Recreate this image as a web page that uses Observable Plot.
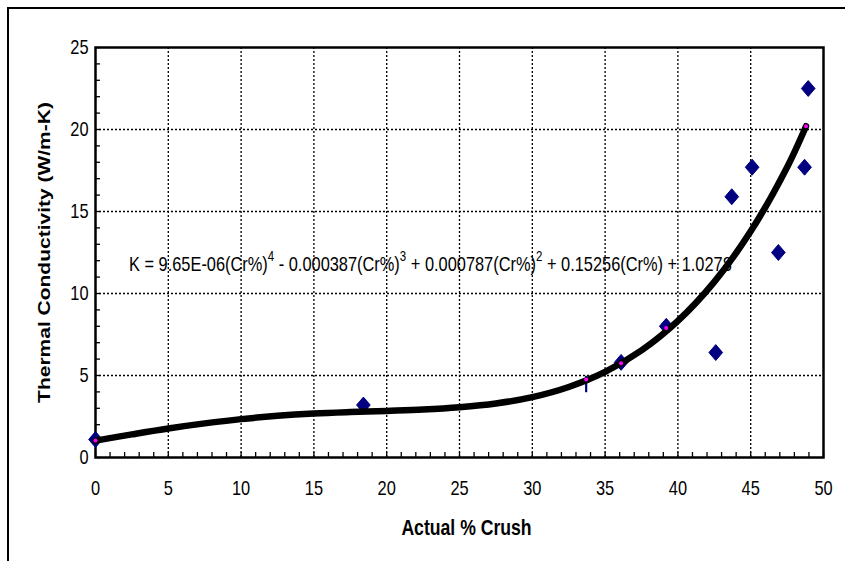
<!DOCTYPE html>
<html>
<head>
<meta charset="utf-8">
<script src="https://cdn.jsdelivr.net/npm/d3@7"></script>
<script src="https://cdn.jsdelivr.net/npm/@observablehq/plot@0.6"></script>
<style>
  html, body { margin: 0; padding: 0; background: #fff; overflow: hidden; }
  #wrap { position: relative; width: 845px; height: 561px; }
  #border { position: absolute; left: 7px; top: 7px; width: 900px; height: 700px; border: 2px solid #000; }
  #chart { position: absolute; left: 0; top: 0; }
</style>
</head>
<body>
<div id="wrap"><div id="border"></div><div id="chart"></div></div>
<script>
// Measured data points (diamonds)
const crush = [0, 18.4, 36.1, 39.2, 42.6, 43.7, 45.1, 46.9, 48.7, 48.95];
const conductivity = [1.1, 3.2, 5.8, 8.0, 6.4, 15.9, 17.7, 12.5, 17.7, 22.5];

// Point drawn as a short vertical stroke
const stickX = [33.7];
const stickLow = [3.95];
const stickHigh = [4.95];

// Fitted curve
const fitX = [0, 2.5, 5, 7.5, 10, 12.5, 15, 17.5, 20, 22.5, 25, 27.5, 30, 32.5, 35, 37.5, 40, 42.5, 45, 47.5, 48.8];
const fitY = [1.03, 1.41, 1.77, 2.08, 2.34, 2.54, 2.68, 2.77, 2.84, 2.92, 3.06, 3.29, 3.68, 4.30, 5.22, 6.53, 8.33, 10.71, 13.79, 17.70, 20.2];

// Small fitted-value markers
const fitMarkX = [0, 33.7, 36.1, 39.2, 48.8];
const fitMarkY = [1.03, 4.75, 5.75, 7.9, 20.2];

// Axis ticks
const xTicks = [0, 5, 10, 15, 20, 25, 30, 35, 40, 45, 50];
const yTicks = [0, 5, 10, 15, 20, 25];
const xMinor = [1,2,3,4,6,7,8,9,11,12,13,14,16,17,18,19,21,22,23,24,26,27,28,29,31,32,33,34,36,37,38,39,41,42,43,44,46,47,48,49];
const yMinor = [1,2,3,4,6,7,8,9,11,12,13,14,16,17,18,19,21,22,23,24];
const xGrid = [5, 10, 15, 20, 25, 30, 35, 40, 45];
const yGrid = [5, 10, 15, 20];

// Texts
const xTitle = "Actual % Crush";
const yTitle = "Thermal Conductivity (W/m-K)";
const eqParts = [
  ["K = 9.65E-06(Cr%)", false], ["4", true],
  [" - 0.000387(Cr%)", false], ["3", true],
  [" + 0.000787(Cr%)", false], ["2", true],
  [" + 0.15256(Cr%) + 1.0278", false]
];
const eqAnchorX = [2.3];
const eqAnchorY = [11.75];

const points = crush.map((x, i) => ({x, y: conductivity[i]}));
const sticks = stickX.map((x, i) => ({x, y1: stickLow[i], y2: stickHigh[i]}));
const fit = fitX.map((x, i) => ({x, y: fitY[i]}));
const fitMarks = fitMarkX.map((x, i) => ({x, y: fitMarkY[i]}));
const eqText = eqParts.map(p => p[0]).join("");

// Slightly tall diamond (like the reference marker)
const tallDiamond = {
  draw(context, size) {
    const h = Math.sqrt(size) * 0.7, w = h * 0.86;
    context.moveTo(0, -h);
    context.lineTo(w, 0);
    context.lineTo(0, h);
    context.lineTo(-w, 0);
    context.closePath();
  }
};

const W = 845, H = 561, mL = 95, mR = 22, mT = 47, mB = 104;
const plotW = W - mL - mR, plotH = H - mT - mB;
const squeeze = 0.82;

const chart = Plot.plot({
  width: W, height: H,
  marginLeft: mL, marginRight: mR, marginTop: mT, marginBottom: mB,
  style: {fontFamily: "'Liberation Sans', Arial, sans-serif", fontSize: "20px", color: "#000", background: "transparent"},
  x: {domain: [0, 50]},
  y: {domain: [0, 25]},
  marks: [
    Plot.ruleX(xGrid, {stroke: "#000", strokeWidth: 1.3, strokeDasharray: "2,2"}),
    Plot.ruleY(yGrid, {stroke: "#000", strokeWidth: 1.3, strokeDasharray: "2,2"}),
    Plot.tickX(xTicks.concat(xMinor), {stroke: "#000", strokeWidth: 1.3, insetTop: plotH - 5}),
    Plot.tickY(yTicks.concat(yMinor), {stroke: "#000", strokeWidth: 1.3, insetRight: plotW - 5}),
    Plot.axisX({ticks: xTicks, tickSize: 0, tickPadding: 23, label: null, fontSize: 20}),
    Plot.axisY({ticks: yTicks, tickSize: 0, tickPadding: 7, label: null, fontSize: 20}),
    Plot.frame({stroke: "#000", strokeWidth: 2.5}),
    Plot.dot(points, {x: "x", y: "y", symbol: tallDiamond, r: 6.4, fill: "#000080", stroke: "#000080", strokeWidth: 1}),
    Plot.ruleX(sticks, {x: "x", y1: "y1", y2: "y2", stroke: "#000080", strokeWidth: 2.2}),
    Plot.line(fit, {x: "x", y: "y", stroke: "#000", strokeWidth: 6.5, curve: "catmull-rom"}),
    Plot.dot(fitMarks, {x: "x", y: "y", r: 2, fill: "#ff00ff", stroke: null}),
    Plot.text([eqText], {x: eqAnchorX, y: eqAnchorY, text: d => d, textAnchor: "start", fontSize: 20, fill: "#000"}),
    Plot.text([xTitle], {text: d => d, frameAnchor: "bottom", lineAnchor: "middle", dx: 7, dy: 71, fontWeight: "bold", fontSize: 21.5, fill: "#000"}),
    Plot.text([yTitle], {text: d => d, frameAnchor: "left", textAnchor: "middle", dx: -51, rotate: -90, fontWeight: "bold", fontSize: 21, fill: "#000"})
  ]
});
document.getElementById("chart").appendChild(chart);

const svg = d3.select(chart);

// Render the equation with superscripts
svg.selectAll("text").each(function() {
  const t = d3.select(this);
  if (t.text() === eqText) {
    t.text(null);
    let prevSup = false;
    eqParts.forEach(([s, sup]) => {
      const ts = t.append("tspan").text(s);
      if (sup) { ts.attr("dy", -10).attr("font-size", 14); prevSup = true; }
      else if (prevSup) { ts.attr("dy", 10); prevSup = false; }
    });
  }
});

// Horizontally condensed lettering, as in the reference picture
svg.selectAll("text").each(function() {
  let tr = this.getAttribute("transform") || "";
  const rotated = /rotate/.test(tr);
  if (!rotated) {
    const x = this.getAttribute("x");
    if (x !== null && !/em$/.test(x)) {
      tr += ` translate(${+x || 0},0)`;
      this.removeAttribute("x");
    }
    this.setAttribute("transform", tr + ` scale(${squeeze},1)`);
  } else {
    this.setAttribute("transform", tr + ` scale(1,${squeeze})`);
  }
});
</script>
</body>
</html>
